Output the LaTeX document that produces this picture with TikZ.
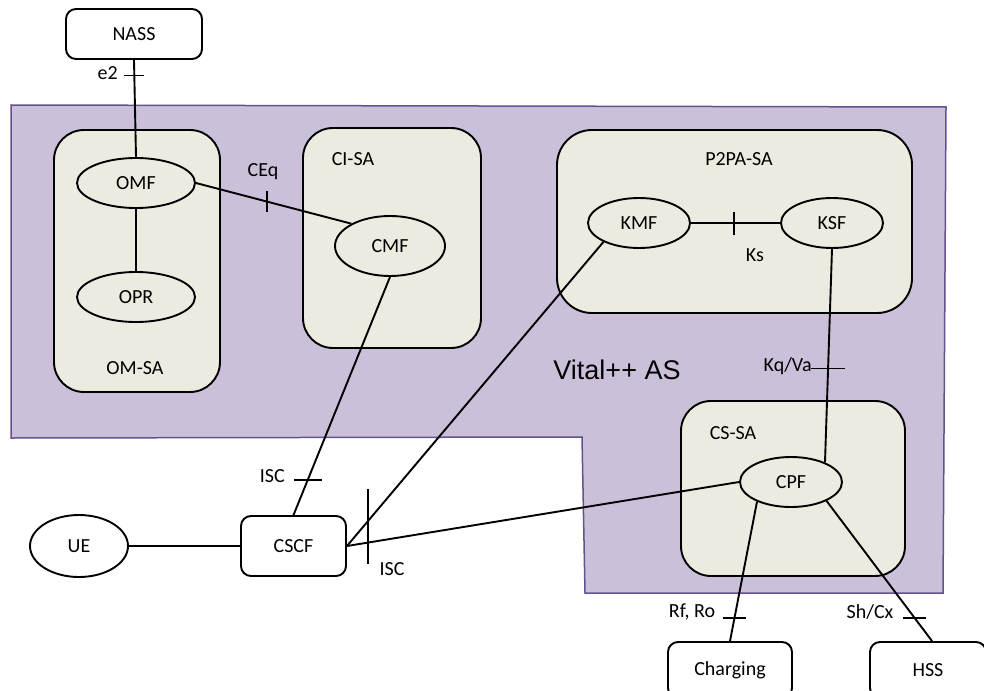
\documentclass[tikz,border=0pt]{standalone}
\usepackage{fontspec}
\setmainfont{Carlito}
\newfontfamily\arialfont{Liberation Sans}
\usetikzlibrary{shapes.geometric}
\definecolor{asfill}{RGB}{203,192,218}
\definecolor{asline}{RGB}{100,82,140}
\definecolor{safill}{RGB}{237,235,224}
\tikzset{
  lbl/.style={font=\fontsize{20}{24}\selectfont, inner sep=0pt},
  conn/.style={line width=1.9pt},
  tickmark/.style={line width=1.9pt},
  extbox/.style={draw, line width=1.9pt, fill=white, rounded corners=10pt, font=\fontsize{20}{24}\selectfont, inner sep=0pt},
  sabox/.style={draw, line width=1.9pt, fill=safill, rounded corners=30pt, inner sep=0pt},
  func/.style={draw, ellipse, line width=1.9pt, fill=safill, inner sep=0pt, font=\fontsize{20}{24}\selectfont},
  uefunc/.style={draw, ellipse, line width=1.9pt, fill=white, inner sep=0pt, font=\fontsize{20}{24}\selectfont}
}
\begin{document}
\begin{tikzpicture}[x=1pt,y=-1pt]
\useasboundingbox (0,0) rectangle (984,690);
\clip (0,0) rectangle (984,690);
\fill[white] (0,0) rectangle (984,690);
% Vital++ AS area
\draw[fill=asfill, draw=asline, line width=1.5pt] (11,105) -- (946,107) -- (943,593) -- (585,593) -- (582,437) -- (11,438) -- cycle;
\node[font=\arialfont\fontsize{27}{32}\selectfont, inner sep=0pt] (vas) at (617,370) {Vital++ AS};
% service areas
\node[sabox, minimum width=166pt, minimum height=262pt] (omsa) at (137,261) {};
\node[sabox, minimum width=178pt, minimum height=220pt] (cisa) at (392,238) {};
\node[sabox, rounded corners=35pt, minimum width=355pt, minimum height=183pt] (p2pa) at (734.5,221.5) {};
\node[sabox, minimum width=224pt, minimum height=175pt] (cssa) at (793,488.5) {};
\node[lbl] (omsal) at (135,368) {OM-SA};
\node[lbl] (cisal) at (353,159) {CI-SA};
\node[lbl] (p2pal) at (739,159) {P2PA-SA};
\node[lbl] (cssal) at (733,433) {CS-SA};
% external boxes
\node[extbox, minimum width=136pt, minimum height=50pt] (nass) at (134,34) {NASS};
\node[extbox, minimum width=105pt, minimum height=60pt] (cscf) at (293.5,546) {CSCF};
\node[extbox, minimum width=124pt, minimum height=56pt] (chg) at (730,670) {Charging};
\node[extbox, minimum width=116pt, minimum height=56pt] (hss) at (928,670) {HSS};
\node[uefunc, minimum width=98pt, minimum height=62pt] (ue) at (79,546) {UE};
% functions
\node[func, minimum width=118pt, minimum height=50pt] (omf) at (136,183) {OMF};
\node[func, minimum width=118pt, minimum height=50pt] (opr) at (136,297) {OPR};
\node[func, minimum width=110pt, minimum height=60pt] (cmf) at (390,246) {CMF};
\node[func, minimum width=102pt, minimum height=50pt] (kmf) at (639,223) {KMF};
\node[func, minimum width=102pt, minimum height=50pt] (ksf) at (832,223) {KSF};
\node[func, minimum width=102pt, minimum height=50pt] (cpf) at (791,482) {CPF};
% connectors
\draw[conn] (nass.south) -- coordinate[pos=0.16] (te2) (omf.north);
\draw[conn] (omf) -- (opr);
\draw[conn] (omf.east) -- coordinate[pos=0.46] (tceq) (cmf.150);
\draw[conn] (kmf.east) -- coordinate[pos=0.48] (tks) (ksf.west);
\draw[conn] (ksf.south) -- coordinate[pos=0.56] (tkq) (cpf.30);
\draw[conn] (cmf.south) -- coordinate[pos=0.854] (tisc) (cscf.north);
\draw[conn] (cscf.east) -- (kmf.208);
\draw[conn] (cscf.east) -- (cpf.west);
\draw[conn] (ue.east) -- (cscf.west);
\draw[conn] (cpf.210) -- coordinate[pos=0.836] (trf) (chg.north);
\draw[conn] (cpf.-28) -- coordinate[pos=0.836] (tsh) ([xshift=4pt]hss.north);
% reference point ticks
\draw[tickmark] ([xshift=-10pt]te2) -- ([xshift=10pt]te2);
\draw[tickmark] ([yshift=-10.5pt]tceq) -- ([yshift=10.5pt]tceq);
\draw[tickmark] ([yshift=-11.5pt]tks) -- ([yshift=11.5pt]tks);
\draw[tickmark] ([xshift=-17pt]tkq) -- ([xshift=17pt]tkq);
\draw[tickmark] ([xshift=-14pt]tisc) -- ([xshift=14pt]tisc);
\coordinate (tisc2) at ([shift={(21,-19.5)}]cscf.east);
\draw[tickmark] ([yshift=37.5pt]tisc2) -- ([yshift=-37.5pt]tisc2);
\draw[tickmark] ([xshift=-11.5pt]trf) -- ([xshift=11.5pt]trf);
\draw[tickmark] ([xshift=-11.5pt]tsh) -- ([xshift=11.5pt]tsh);
% reference point labels
\node[lbl, anchor=east] (le2) at (118,73) {e2};
\node[lbl] (lceq) at (263,172) {CEq};
\node[lbl] (lks) at (755,255) {Ks};
\node[lbl, anchor=east] (lkq) at (812,366) {Kq/Va};
\node[lbl, anchor=east] (lisc) at (285,476) {ISC};
\node[lbl] (lisc2) at (392,569) {ISC};
\node[lbl] (lrf) at (692,612) {Rf, Ro};
\node[lbl] (lsh) at (870,612) {Sh/Cx};
\end{tikzpicture}
\end{document}
